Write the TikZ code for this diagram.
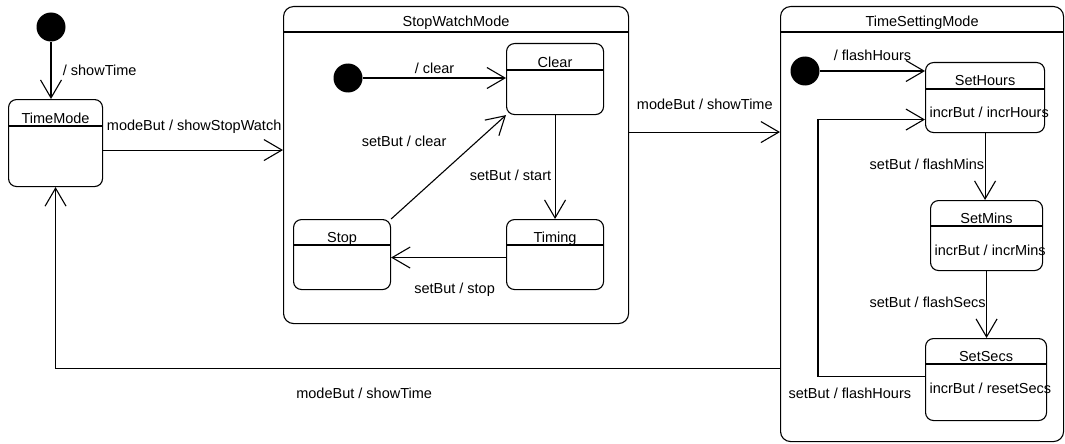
\documentclass[tikz,border=0pt]{standalone}
\usepackage{fontspec}
\setmainfont{Liberation Sans}
\usetikzlibrary{calc, arrows.meta}

\begin{document}
\begin{tikzpicture}[x=1pt, y=-1pt, line width=1.1pt,
        every node/.style={font=\fontsize{14.5}{17}\selectfont},
        modebox/.style={draw, rounded corners=10pt, anchor=north west},
        statebox/.style={draw, rounded corners=8pt, anchor=north west},
        startdot/.style={circle, fill=black, minimum size=29pt, inner sep=0pt},
        title/.style={anchor=base, inner sep=0pt},
        act/.style={anchor=base west, inner sep=0pt},
        trans/.style={-{Straight Barb[length=18pt, width=21pt]}}]
        \useasboundingbox (0, 0) rectangle (1065, 444);

        \node[startdot](Init) at (51, 27){};
        \node[statebox, minimum width=94pt, minimum height=87pt](TimeMode) at (8, 99){};
        \node[title](TimeModeName) at ([yshift=-24pt]TimeMode.north){TimeMode};
        \draw ([yshift=-27pt]TimeMode.north west) -- ([yshift=-27pt]TimeMode.north east);

        \node[modebox, minimum width=345pt, minimum height=317pt](StopWatch) at (283, 6){};
        \node[title](StopWatchName) at ([yshift=-21pt]StopWatch.north){StopWatchMode};
        \draw ([yshift=-26pt]StopWatch.north west) -- ([yshift=-26pt]StopWatch.north east);

        \node[startdot](SWInit) at (348, 78){};
        \node[statebox, minimum width=97pt, minimum height=71pt](Clear) at (506, 43){};
        \node[title](ClearName) at ([yshift=-24pt]Clear.north){Clear};
        \draw ([yshift=-27pt]Clear.north west) -- ([yshift=-27pt]Clear.north east);
        \node[statebox, minimum width=97pt, minimum height=70pt](Stop) at (293, 219){};
        \node[title](StopName) at ([yshift=-23.5pt]Stop.north){Stop};
        \draw ([yshift=-26pt]Stop.north west) -- ([yshift=-26pt]Stop.north east);
        \node[statebox, minimum width=97pt, minimum height=70pt](Timing) at (506, 219){};
        \node[title](TimingName) at ([yshift=-23.5pt]Timing.north){Timing};
        \draw ([yshift=-26pt]Timing.north west) -- ([yshift=-26pt]Timing.north east);

        \path(SWInit) edge[trans] node[above]{/ clear}(SWInit -| Clear.west);
        \path(Clear) edge[trans] node[left, pos=0.58]{setBut / start}(Timing);
        \path([yshift=-3pt]Timing.west) edge[trans] node[below, xshift=6pt, yshift=-22pt]{setBut / stop}([yshift=-3pt]Timing.west -| Stop.east);
        \path(Stop.north east) edge[trans] node[pos=0.75, left, xshift=-27pt]{setBut / clear}(Clear.south west);

        \node[modebox, minimum width=283pt, minimum height=435pt](TimeSetting) at (780, 6){};
        \node[title](TimeSettingName) at ([yshift=-21pt]TimeSetting.north){TimeSettingMode};
        \draw ([yshift=-26pt]TimeSetting.north west) -- ([yshift=-26pt]TimeSetting.north east);

        \node[startdot](TSInit) at (805, 71){};
        \node[statebox, minimum width=119pt, minimum height=70pt](SetHours) at (925, 62){};
        \node[title](SetHoursName) at ([yshift=-23.5pt]SetHours.north){SetHours};
        \draw ([yshift=-27pt]SetHours.north west) -- ([yshift=-27pt]SetHours.north east);
        \node[act](SetHoursAct) at ([xshift=4pt, yshift=-55pt]SetHours.north west){incrBut / incrHours};
        \node[statebox, minimum width=112pt, minimum height=70pt](SetMins) at (930, 200){};
        \node[title](SetMinsName) at ([yshift=-23.5pt]SetMins.north){SetMins};
        \draw ([yshift=-26pt]SetMins.north west) -- ([yshift=-26pt]SetMins.north east);
        \node[act](SetMinsAct) at ([xshift=4pt, yshift=-55pt]SetMins.north west){incrBut / incrMins};
        \node[statebox, minimum width=121pt, minimum height=82pt](SetSecs) at (925, 338){};
        \node[title](SetSecsName) at ([yshift=-23.5pt]SetSecs.north){SetSecs};
        \draw ([yshift=-26pt]SetSecs.north west) -- ([yshift=-26pt]SetSecs.north east);
        \node[act](SetSecsAct) at ([xshift=4pt, yshift=-55pt]SetSecs.north west){incrBut / resetSecs};

        \path(TSInit) edge[trans] node[above, yshift=6pt]{/ flashHours}(TSInit -| SetHours.west);
        \path(SetHours) edge[trans] node[left, pos=0.47, xshift=3pt]{setBut / flashMins}(SetHours.south |- SetMins.north);
        \path(SetMins) edge[trans] node[left, pos=0.46, xshift=3pt]{setBut / flashSecs}(SetMins.south |- SetSecs.north);
        \draw[trans]([yshift=3pt]SetSecs.west) -- node[pos=0, anchor=base east, xshift=-10pt, yshift=-22pt]{setBut / flashHours} ++(-107, 0) |- ([yshift=-22pt]SetHours.west);

        \path(Init) edge[trans] node[right, xshift=8pt]{/ showTime}(Init |- TimeMode.north);
        \path([yshift=-7pt]TimeMode.east) edge[trans] node[pos=0, anchor=base west, yshift=19.5pt]{modeBut / showStopWatch}([yshift=-7pt]TimeMode.east -| StopWatch.west);
        \path([yshift=33pt]StopWatch.east) edge[trans] node[pos=0, anchor=base west, xshift=4pt, yshift=22.5pt]{modeBut / showTime}([yshift=33pt]StopWatch.east -| TimeSetting.west);
        \draw[trans]([yshift=-144pt]TimeSetting.west) -| node[pos=0.287, anchor=base, yshift=-30pt]{modeBut / showTime}(TimeMode.south);

    \end{tikzpicture}
\end{document}
